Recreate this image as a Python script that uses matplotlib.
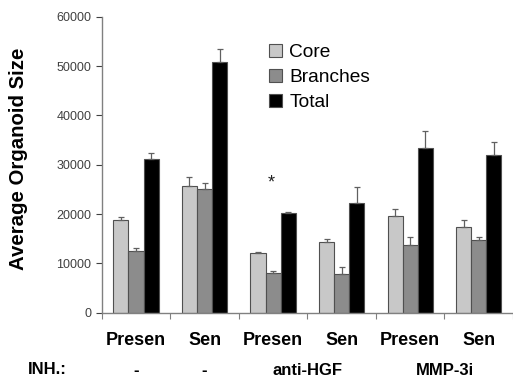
import numpy as np
import matplotlib.pyplot as plt

plt.rcParams['font.family'] = ['Liberation Sans', 'DejaVu Sans']

# group labels
cells = ['Presen', 'Sen', 'Presen', 'Sen', 'Presen', 'Sen']
inhibitors = ['-', '-', 'anti-HGF', 'MMP-3i']

# mean organoid size per group
core = [18800, 25700, 12050, 14350, 19550, 17300]
branches = [12450, 25150, 8100, 7850, 13750, 14700]
total = [31100, 50900, 20200, 22250, 33300, 32000]

# upper error (standard error)
core_err = [600, 1900, 250, 650, 1550, 1500]
branches_err = [700, 1100, 300, 1500, 1550, 600]
total_err = [1250, 2500, 250, 3300, 3600, 2500]

x = np.arange(len(cells)) + 0.5
w = 0.22

fig = plt.figure(figsize=(5.13, 3.77), dpi=100)
ax = fig.add_axes([101.7/513, 1 - 312.7/377, 1 - 101.7/513, (312.7 - 16.7)/377])

series = [(core, core_err, '#c8c8c8', 'Core'),
          (branches, branches_err, '#8c8c8c', 'Branches'),
          (total, total_err, '#000000', 'Total')]
for i, (vals, errs, col, name) in enumerate(series):
    ax.bar(x + (i - 1)*w, vals, w, color=col, edgecolor='#505050', linewidth=0.8,
           label=name, yerr=[np.zeros(len(errs)), errs],
           error_kw=dict(ecolor='#606060', elinewidth=0.9, capsize=2, capthick=0.9))

# significance mark over anti-HGF presenescent
ax.text(x[2] - 0.03, 26300, '*', ha='center', va='center', fontsize=13, color='#202020')

ax.set_xlim(0, 6)
ax.set_ylim(0, 60000)
ax.set_yticks(np.arange(0, 60001, 10000))
ax.tick_params(axis='y', labelsize=9, colors='#404040', length=4, direction='out')
ax.set_xticks(np.arange(0, 7))
ax.set_xticklabels([])
ax.tick_params(axis='x', length=4, direction='out', color='#808080')
ax.set_xticks(x, minor=True)
ax.set_xticklabels(cells, minor=True, fontsize=13, fontweight='bold')
ax.tick_params(axis='x', which='minor', length=0, pad=14)

for s in ['top', 'right']:
    ax.spines[s].set_visible(False)
for s in ['left', 'bottom']:
    ax.spines[s].set_color('#808080')
    ax.spines[s].set_linewidth(1.0)

ax.set_ylabel('Average Organoid Size', fontsize=14.7, fontweight='bold')
ax.yaxis.set_label_coords(-0.18, 0.52)

# inhibitor row
inh_x = [x[0], x[1], 3.0, 5.0]
for xi, t in zip(inh_x, inhibitors):
    ax.text(xi, -0.195, t, transform=ax.get_xaxis_transform(), ha='center', va='center',
            fontsize=12, fontweight='bold')
fig.text(28/513, 1 - 370/377, 'INH.:', ha='left', va='center', fontsize=12, fontweight='bold')

ax.legend(loc='upper left', bbox_to_anchor=(0.365, 0.965), frameon=False, fontsize=13.8,
          handlelength=0.65, handleheight=0.65, handletextpad=0.4, labelspacing=0.4)

fig.savefig('out.png', dpi=100)
